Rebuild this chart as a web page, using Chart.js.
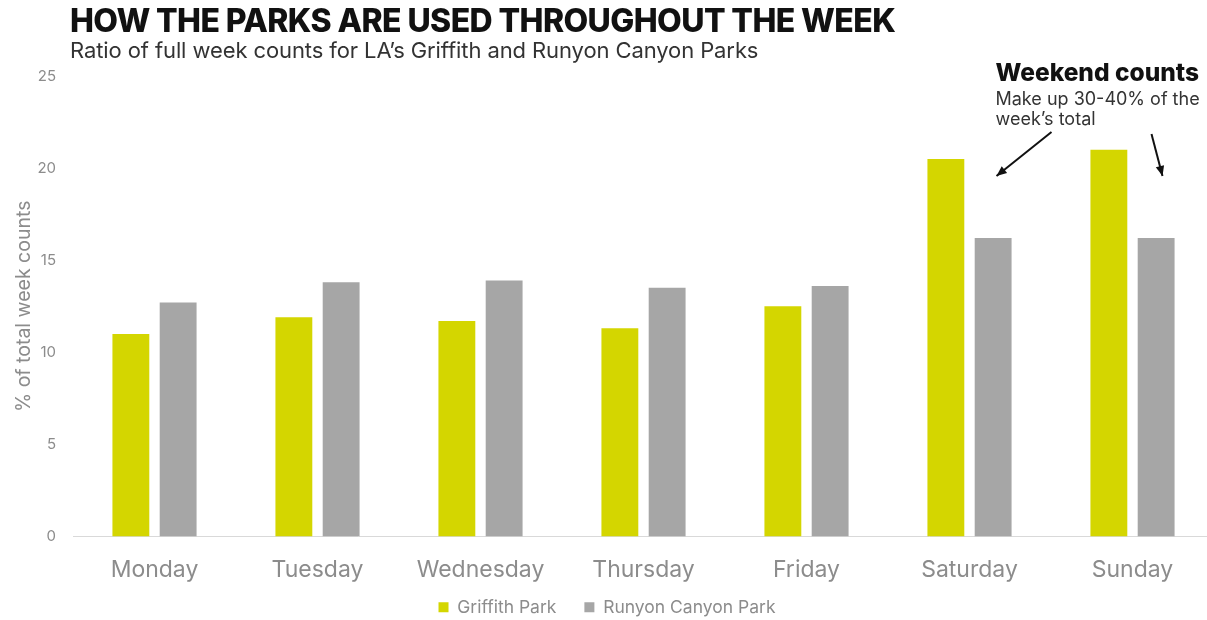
<!DOCTYPE html>
<html>
<head>
<meta charset="utf-8">
<script src="https://cdn.jsdelivr.net/npm/chart.js@4.4.1/dist/chart.umd.min.js"></script>
<style>
  html, body { margin: 0; padding: 0; background: #fff; overflow: hidden; }
  #wrap { position: relative; width: 1214px; height: 620px; overflow: hidden; }
  #title { position: absolute; left: 70px; top: 1px; font: 800 32px "Inter", sans-serif; letter-spacing: -0.6px; color: #111; white-space: nowrap; }
  #subtitle { position: absolute; left: 70px; top: 37px; font: 400 22px "Inter", sans-serif; letter-spacing: -0.1px; color: #333; white-space: nowrap; }
  canvas { position: absolute; left: 0; top: 0; }
</style>
</head>
<body>
<div id="wrap">
  <canvas id="chart" width="1214" height="626"></canvas>
  <div id="title">HOW THE PARKS ARE USED THROUGHOUT THE WEEK</div>
  <div id="subtitle">Ratio of full week counts for LA’s Griffith and Runyon Canyon Parks</div>
</div>
<script>
// data
const days = ["Monday", "Tuesday", "Wednesday", "Thursday", "Friday", "Saturday", "Sunday"];
const griffith = [11.0, 11.9, 11.7, 11.3, 12.5, 20.5, 21.0];
const runyon = [12.7, 13.8, 13.9, 13.5, 13.6, 16.2, 16.2];
const yTicks = [0, 5, 10, 15, 20, 25];

const GREEN = "#d4d600";
const GREY = "#a6a6a6";
const TXT = "#8c8c8c";

// let the day labels hang below the (thin) x scale box without being clipped
const noLabelClip = {
  id: "noLabelClip",
  beforeDraw(chart) {
    chart.scales.x._computeLabelArea = () => undefined;
  }
};

// draws the "Weekend counts" note and its two arrows
const weekendNote = {
  id: "weekendNote",
  afterDraw(chart) {
    const ctx = chart.ctx;
    const x = chart.scales.x, y = chart.scales.y;
    const sat = x.getPixelForValue(5), sun = x.getPixelForValue(6);
    const left = sat + 26;
    ctx.save();
    ctx.fillStyle = "#111";
    ctx.textBaseline = "alphabetic";
    ctx.font = "800 24.5px Inter, sans-serif";
    ctx.fillText("Weekend counts", left, y.getPixelForValue(24.73));
    ctx.fillStyle = "#333";
    ctx.font = "400 18px Inter, sans-serif";
    ctx.fillText("Make up 30-40% of the", left, y.getPixelForValue(23.42));
    ctx.fillText("week’s total", left, y.getPixelForValue(22.34));

    const arrow = (x1, y1, x2, y2) => {
      ctx.strokeStyle = "#111";
      ctx.fillStyle = "#111";
      ctx.lineWidth = 2;
      ctx.beginPath();
      ctx.moveTo(x1, y1);
      ctx.lineTo(x2, y2);
      ctx.stroke();
      const a = Math.atan2(y2 - y1, x2 - x1);
      const h = 11;
      ctx.beginPath();
      ctx.moveTo(x2, y2);
      ctx.lineTo(x2 - h * Math.cos(a - 0.4), y2 - h * Math.sin(a - 0.4));
      ctx.lineTo(x2 - h * Math.cos(a + 0.4), y2 - h * Math.sin(a + 0.4));
      ctx.closePath();
      ctx.fill();
    };
    arrow(sat + 82, y.getPixelForValue(21.96), sat + 27, y.getPixelForValue(19.57));
    arrow(sun + 19, y.getPixelForValue(21.85), sun + 30, y.getPixelForValue(19.57));
    ctx.restore();
  }
};

new Chart(document.getElementById("chart"), {
  type: "bar",
  data: {
    labels: days,
    datasets: [
      { label: "Griffith Park", data: griffith, backgroundColor: GREEN },
      { label: "Runyon Canyon Park", data: runyon, backgroundColor: GREY }
    ]
  },
  options: {
    responsive: false,
    animation: false,
    datasets: { bar: { categoryPercentage: 0.58, barPercentage: 0.78 } },
    layout: { padding: { top: 76, left: 0, right: 0, bottom: 0 } },
    plugins: {
      tooltip: { enabled: false },
      legend: {
        position: "bottom",
        labels: {
          boxWidth: 10, boxHeight: 10, padding: 28,
          color: TXT, font: { family: "Inter", size: 17.5 }
        }
      }
    },
    scales: {
      x: {
        grid: { display: false, drawTicks: false },
        border: { display: true, color: "#d9d9d9", width: 1 },
        ticks: { color: TXT, padding: 20, font: { family: "Inter", size: 23 } },
        afterFit: (s) => { s.height = 34; }
      },
      y: {
        min: 0, max: 25,
        afterBuildTicks: (s) => { s.ticks = yTicks.map(v => ({ value: v })); },
        grid: { display: false, drawTicks: false },
        border: { display: false },
        ticks: { color: TXT, padding: 17, font: { family: "Inter", size: 15 } },
        title: { display: true, text: "% of total week counts", color: TXT, padding: { top: 12, bottom: 4 }, font: { family: "Inter", size: 19.5 } },
        afterFit: (s) => { s.width = 73; }
      }
    }
  },
  plugins: [noLabelClip, weekendNote]
});
</script>
</body>
</html>
